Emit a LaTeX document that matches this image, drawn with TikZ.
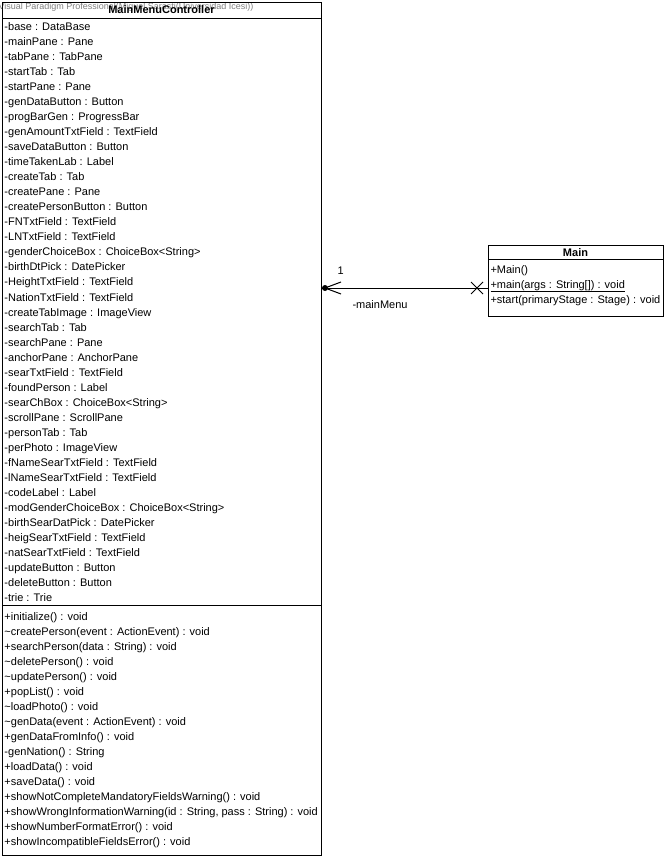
\documentclass[tikz,border=0pt]{standalone}
\usepackage{fontspec}
\setmainfont{Liberation Sans}
\usetikzlibrary{calc}

\begin{document}
\begin{tikzpicture}[x=1pt, y=-1pt, line width=1pt]

  % Styles for class boxes, titles and member rows
  \tikzset{
    classbox/.style={draw, fill=white, anchor=north west, inner sep=0pt},
    classtitle/.style={anchor=base, inner sep=0pt, font=\bfseries\fontsize{11}{13}\selectfont},
    member/.style={anchor=base west, inner sep=0pt, font=\fontsize{11}{13}\selectfont}
  }

  \useasboundingbox (0,0) rectangle (670,858);

  % --- WATERMARK ---
  \node[anchor=base west, inner sep=0pt, text=gray, font=\fontsize{9}{10}\selectfont] (wmark) at (-2,10)
    {Visual Paradigm Professional(Miguel Sarasti(Universidad Icesi))};

  % 1. MainMenuController class
  \node[classbox, fill=none, minimum width=319pt, minimum height=853pt] (ctrl) at (2,2) {};
  \node[classtitle] (ctrltitle) at (161.5,14) {MainMenuController};
  \draw (ctrl.west |- 0,19) -- (ctrl.east |- 0,19);
  \draw (ctrl.west |- 0,605) -- (ctrl.east |- 0,605);

  % Attributes
  \foreach \attr [count=\i] in {
      -base : DataBase, -mainPane : Pane, -tabPane : TabPane, -startTab : Tab,
      -startPane : Pane, -genDataButton : Button, -progBarGen : ProgressBar,
      -genAmountTxtField : TextField, -saveDataButton : Button, -timeTakenLab : Label,
      -createTab : Tab, -createPane : Pane, -createPersonButton : Button,
      -FNTxtField : TextField, -LNTxtField : TextField, -genderChoiceBox : ChoiceBox<String>,
      -birthDtPick : DatePicker, -HeightTxtField : TextField, -NationTxtField : TextField,
      -createTabImage : ImageView, -searchTab : Tab, -searchPane : Pane,
      -anchorPane : AnchorPane, -searTxtField : TextField, -foundPerson : Label,
      -searChBox : ChoiceBox<String>, -scrollPane : ScrollPane, -personTab : Tab,
      -perPhoto : ImageView, -fNameSearTxtField : TextField, -lNameSearTxtField : TextField,
      -codeLabel : Label, -modGenderChoiceBox : ChoiceBox<String>, -birthSearDatPick : DatePicker,
      -heigSearTxtField : TextField, -natSearTxtField : TextField, -updateButton : Button,
      -deleteButton : Button, -trie : Trie}
    \node[member] (attr\i) at (4,16+15*\i) {\attr};

  % Operations
  \foreach \oper [count=\i] in {
      +initialize() : void, \textasciitilde createPerson(event : ActionEvent) : void,
      +searchPerson(data : String) : void, \textasciitilde deletePerson() : void,
      \textasciitilde updatePerson() : void, +popList() : void, \textasciitilde loadPhoto() : void,
      \textasciitilde genData(event : ActionEvent) : void, +genDataFromInfo() : void,
      -genNation() : String, +loadData() : void, +saveData() : void,
      +showNotCompleteMandatoryFieldsWarning() : void,
      {+showWrongInformationWarning(id : String, pass : String) : void},
      +showNumberFormatError() : void, +showIncompatibleFieldsError() : void}
    \node[member] (oper\i) at (4,605+15*\i) {\oper};

  % 2. Main class
  \node[classbox, minimum width=175pt, minimum height=70pt] (main) at (488,245.5) {};
  \node[classtitle] (maintitle) at (575.5,257) {Main};
  \draw (main.west |- 0,260) -- (main.east |- 0,260);
  \node[member] (mainop1) at (490,273) {+Main()};
  \node[member] (mainop2) at (490,288) {\underline{+main(args : String[]) : void}};
  \node[member] (mainop3) at (490,303) {+start(primaryStage : Stage) : void};

  % --- ASSOCIATION ---
  \coordinate (ctrlend) at (ctrl.east |- 0,288);
  \coordinate (mainend) at (main.west |- 0,288);
  \draw (ctrlend) -- (mainend);

  % Owned end dot and open arrowhead at the controller side
  \fill ($(ctrlend)+(3,0)$) circle (3);
  \draw ($(ctrlend)+(19,-6)$) -- ($(ctrlend)+(3,0)$) -- ($(ctrlend)+(19,6)$);

  % Non-navigable cross at the Main side
  \draw ($(mainend)+(-17,-6)$) -- ($(mainend)+(-5,6)$);
  \draw ($(mainend)+(-17,6)$) -- ($(mainend)+(-5,-6)$);

  % Multiplicity and role labels
  \node[member] (multlab) at (337,275) {1};
  \node[member] (rolelab) at (352,308) {-mainMenu};

\end{tikzpicture}
\end{document}
